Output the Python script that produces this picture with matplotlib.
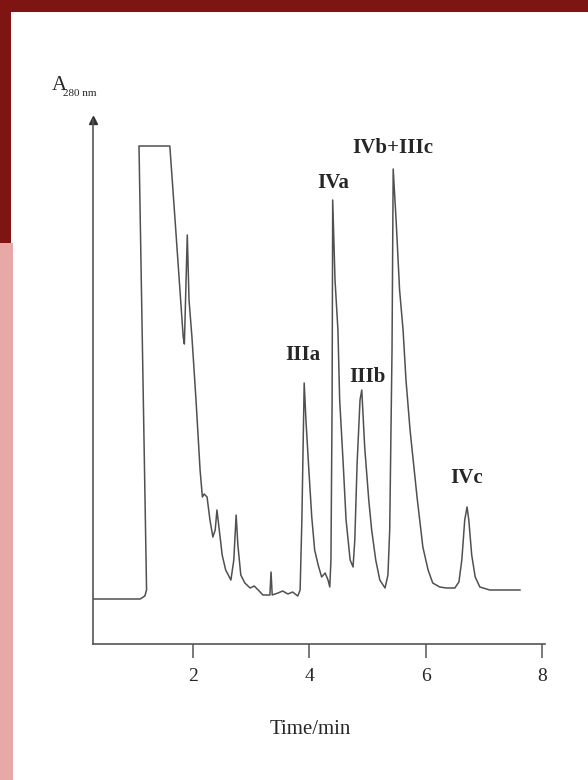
import matplotlib.pyplot as plt
from matplotlib.patches import Rectangle

# Trace (time in min, absorbance in arbitrary units)
time_min = [0.27, 1.09, 1.17, 1.20, 1.07, 1.60, 1.69, 1.83, 1.85, 1.90, 1.93, 1.98,
            2.05, 2.12, 2.16, 2.19, 2.24, 2.29, 2.34, 2.38, 2.41, 2.45, 2.50, 2.56,
            2.65, 2.70, 2.74, 2.77, 2.82, 2.89, 2.98, 3.05, 3.12, 3.20, 3.32, 3.34,
            3.36, 3.46, 3.54, 3.63, 3.71, 3.80, 3.84, 3.87, 3.91, 3.94, 3.99, 4.04,
            4.09, 4.15, 4.21, 4.27, 4.32, 4.35, 4.37, 4.39, 4.40, 4.44, 4.49, 4.52,
            4.58, 4.63, 4.70, 4.75, 4.78, 4.82, 4.87, 4.90, 4.95, 5.02, 5.07, 5.14,
            5.21, 5.30, 5.35, 5.38, 5.42, 5.44, 5.49, 5.55, 5.61, 5.66, 5.73, 5.85,
            5.95, 6.04, 6.12, 6.24, 6.36, 6.50, 6.57, 6.62, 6.67, 6.71, 6.74, 6.79,
            6.85, 6.93, 7.10, 7.62]
absorbance = [0.45, 0.45, 0.48, 0.54, 4.98, 4.98, 4.24, 3.07, 3.00, 4.09, 3.44, 3.07,
              2.44, 1.74, 1.47, 1.50, 1.47, 1.24, 1.07, 1.14, 1.34, 1.14, 0.89, 0.74,
              0.64, 0.84, 1.29, 0.99, 0.69, 0.61, 0.56, 0.58, 0.54, 0.49, 0.49, 0.72,
              0.49, 0.51, 0.53, 0.50, 0.52, 0.48, 0.54, 1.24, 2.61, 2.24, 1.74, 1.27,
              0.94, 0.79, 0.67, 0.71, 0.64, 0.57, 0.84, 2.44, 4.44, 3.64, 3.14, 2.44,
              1.81, 1.24, 0.84, 0.77, 1.04, 1.81, 2.44, 2.54, 1.97, 1.44, 1.14, 0.84,
              0.64, 0.56, 0.69, 1.14, 2.94, 4.75, 4.24, 3.54, 3.14, 2.64, 2.14, 1.47,
              0.97, 0.74, 0.61, 0.57, 0.56, 0.56, 0.62, 0.84, 1.24, 1.37, 1.24, 0.89,
              0.67, 0.57, 0.54, 0.54]

peak_names = ['IIIa', 'IVa', 'IIIb', 'IVb+IIIc', 'IVc']
peak_times = [3.91, 4.40, 4.90, 5.44, 6.71]
peak_heights = [2.61, 4.44, 2.54, 4.75, 1.37]

x_ticks = [2, 4, 6, 8]

serif = 'Liberation Serif'
ink = '#262626'

# label offsets from the peak tops, in points
label_dx = [-1, 0, 4, 0, 0]
label_dy = [20, 12, 9, 15, 21]

fig = plt.figure(figsize=(5.88, 7.80), dpi=100)
fig.patch.set_facecolor('white')

# Slide background strips
fig.patches.append(Rectangle((0, 1 - 12 / 780), 1, 12 / 780, transform=fig.transFigure,
                             facecolor='#7e1512', edgecolor='none', zorder=0))
fig.patches.append(Rectangle((0, 1 - 243 / 780), 11 / 588, 243 / 780, transform=fig.transFigure,
                             facecolor='#7e1512', edgecolor='none', zorder=0))
fig.patches.append(Rectangle((0, 0), 13 / 588, 1 - 243 / 780, transform=fig.transFigure,
                             facecolor='#e8a8a5', edgecolor='none', zorder=0))

ax = fig.add_axes([92.7 / 588, 1 - 644 / 780, 452.3 / 588, 524 / 780])
ax.patch.set_alpha(0)
ax.plot(time_min, absorbance, color='#505050', linewidth=1.1, solid_joinstyle='round')

ax.set_xlim(0.274, 8.05)
ax.set_ylim(0, 5.24)

for side in ['top', 'right']:
    ax.spines[side].set_visible(False)
for side in ['left', 'bottom']:
    ax.spines[side].set_color('#555555')
    ax.spines[side].set_linewidth(1.2)

# arrow head on the y axis
ax.plot(0, 1, marker='^', color='#333333', markersize=6, transform=ax.transAxes, clip_on=False)

ax.set_yticks([])
ax.set_xticks(x_ticks)
ax.set_xticklabels([str(t) for t in x_ticks], fontfamily=serif, fontsize=14, color=ink)
ax.tick_params(axis='x', direction='out', length=10, width=1.1, color='#555555', pad=7)

for name, t, h, dx, dy in zip(peak_names, peak_times, peak_heights, label_dx, label_dy):
    ax.annotate(name, (t, h), xytext=(dx, dy), textcoords='offset points',
                ha='center', va='center', fontfamily=serif, fontsize=15,
                fontweight='bold', color=ink)

fig.text(52 / 588, 1 - 90 / 780, 'A', fontfamily=serif, fontsize=15, color=ink,
         ha='left', va='baseline')
fig.text(63 / 588, 1 - 96 / 780, '280 nm', fontfamily=serif, fontsize=8, color=ink,
         ha='left', va='baseline')
fig.text(310 / 588, 1 - 730 / 780, 'Time/min', fontfamily=serif, fontsize=15, color=ink,
         ha='center', va='center')

fig.savefig('out.png', dpi=100)
